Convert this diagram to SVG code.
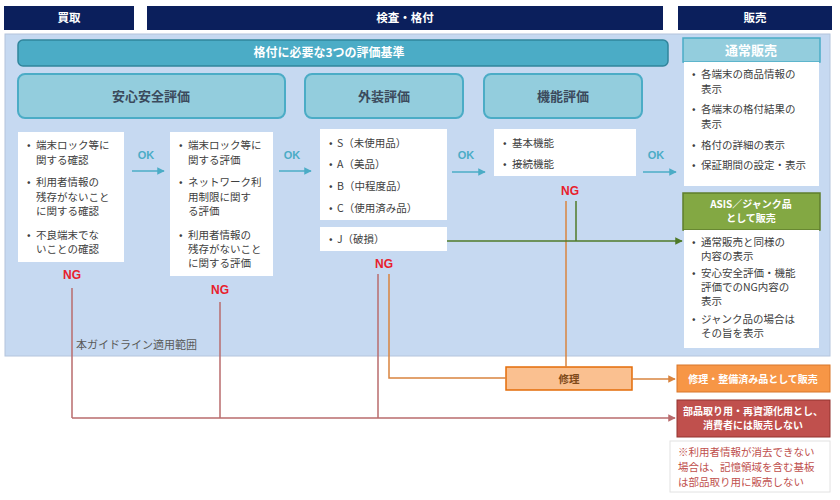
<svg xmlns="http://www.w3.org/2000/svg" width="840" height="500" viewBox="0 0 840 500">
<style>
text{font-family:"Noto Sans CJK JP","Noto Sans",sans-serif;}
.hdr{fill:#0b1f5c;}
.hdrt{fill:#fff;font-size:11.5px;font-weight:bold;text-anchor:middle;}
.cat{fill:#93cddd;stroke:#4bacc6;stroke-width:2;}
.catt{fill:#3b4a5c;font-size:13px;font-weight:bold;text-anchor:middle;}
.box{fill:#fff;}
.b{fill:#404040;font-size:10.5px;}
.ok{fill:#4bacc6;font-size:11px;font-weight:bold;text-anchor:middle;font-family:"Liberation Sans",Arial,sans-serif;}
.ng{fill:#e8202c;font-size:12px;font-weight:bold;text-anchor:middle;font-family:"Liberation Sans",Arial,sans-serif;}
.wt{fill:#fff;font-size:10px;font-weight:bold;text-anchor:middle;}
.teal{stroke:#4bacc6;stroke-width:1.5;fill:none;}
.rose{stroke:#b96b6d;stroke-width:1.5;fill:none;}
.orange{stroke:#d9843f;stroke-width:1.5;fill:none;}
.green{stroke:#4f7a28;stroke-width:1.5;fill:none;}
</style>
<defs>
<marker id="aTeal" viewBox="0 0 10 10" refX="9" refY="5" markerWidth="5" markerHeight="5" orient="auto"><path d="M0,0L10,5L0,10z" fill="#4bacc6"/></marker>
<marker id="aRose" viewBox="0 0 10 10" refX="9" refY="5" markerWidth="5" markerHeight="5" orient="auto"><path d="M0,0L10,5L0,10z" fill="#b96b6d"/></marker>
<marker id="aOrange" viewBox="0 0 10 10" refX="9" refY="5" markerWidth="5" markerHeight="5" orient="auto"><path d="M0,0L10,5L0,10z" fill="#d9843f"/></marker>
<marker id="aGreen" viewBox="0 0 10 10" refX="9" refY="5" markerWidth="5" markerHeight="5" orient="auto"><path d="M0,0L10,5L0,10z" fill="#4f7a28"/></marker>
</defs>
<rect width="840" height="500" fill="#fff"/>
<!-- panel -->
<rect x="5" y="34" width="825" height="322" fill="#c6d9f1" stroke="#b4c4dc" stroke-width="1"/>
<text x="76" y="349" style="fill:#595959;font-size:11px;">本ガイドライン適用範囲</text>

<!-- headers -->
<g id="h-buy"><rect class="hdr" x="4" y="6" width="130" height="24"/><text class="hdrt" x="69" y="22">買取</text></g>
<g id="h-inspect"><rect class="hdr" x="147" y="6" width="516" height="24"/><text class="hdrt" x="405" y="22">検査・格付</text></g>
<g id="h-sell"><rect class="hdr" x="678" y="6" width="154" height="24"/><text class="hdrt" x="755" y="22">販売</text></g>

<g id="criteria"><rect x="18" y="40" width="650" height="26" rx="5" fill="#4bacc6" stroke="#31859c" stroke-width="1.5"/><text class="hdrt" x="329" y="57" style="font-size:12px">格付に必要な3つの評価基準</text></g>
<g id="cat-safe"><rect class="cat" x="18" y="74" width="267" height="44" rx="7"/><text class="catt" x="151" y="101">安心安全評価</text></g>
<g id="cat-ext"><rect class="cat" x="305" y="74" width="158" height="44" rx="7"/><text class="catt" x="384" y="101">外装評価</text></g>
<g id="cat-func"><rect class="cat" x="484" y="74" width="158" height="44" rx="7"/><text class="catt" x="563" y="101">機能評価</text></g>

<!-- box1 -->
<g id="buy-check">
<rect class="box" x="18" y="132" width="106" height="130"/>
<text class="b" x="27" y="149">•</text>
<text class="b" x="36" y="149">端末ロック等に</text><text class="b" x="36" y="164">関する確認</text>
<text class="b" x="27" y="186">•</text>
<text class="b" x="36" y="186">利用者情報の</text><text class="b" x="36" y="201">残存がないこと</text><text class="b" x="36" y="215">に関する確認</text>
<text class="b" x="27" y="239">•</text>
<text class="b" x="36" y="239">不良端末でな</text><text class="b" x="36" y="253">いことの確認</text>
</g>
<!-- box2 -->
<g id="safe-eval">
<rect class="box" x="170" y="132" width="103" height="144"/>
<text class="b" x="179" y="149">•</text>
<text class="b" x="188" y="149">端末ロック等に</text><text class="b" x="188" y="164">関する評価</text>
<text class="b" x="179" y="186">•</text>
<text class="b" x="188" y="186">ネットワーク利</text><text class="b" x="188" y="201">用制限に関す</text><text class="b" x="188" y="215">る評価</text>
<text class="b" x="179" y="239">•</text>
<text class="b" x="188" y="239">利用者情報の</text><text class="b" x="188" y="253">残存がないこと</text><text class="b" x="188" y="267">に関する評価</text>
</g>
<!-- box3 -->
<g id="ext-grades">
<rect class="box" x="320" y="129" width="127" height="91"/>
<text class="b" x="329" y="147">•</text><text class="b" x="337" y="147">S（未使用品）</text>
<text class="b" x="329" y="168">•</text><text class="b" x="337" y="168">A（美品）</text>
<text class="b" x="329" y="190">•</text><text class="b" x="337" y="190">B（中程度品）</text>
<text class="b" x="329" y="212">•</text><text class="b" x="337" y="212">C（使用済み品）</text>
</g>
<g id="ext-j">
<rect class="box" x="320" y="227" width="127" height="24"/>
<text class="b" x="329" y="243">•</text><text class="b" x="337" y="243">J（破損）</text>
</g>
<!-- box4 -->
<g id="func-eval">
<rect class="box" x="494" y="129" width="142" height="47"/>
<text class="b" x="503" y="147">•</text><text class="b" x="512" y="147">基本機能</text>
<text class="b" x="503" y="168">•</text><text class="b" x="512" y="168">接続機能</text>
</g>

<!-- normal sale -->
<g id="sale-normal">
<rect x="683" y="38" width="137" height="24" fill="#93cddd" stroke="#4bacc6" stroke-width="1.5"/>
<text class="wt" x="751" y="55" style="font-size:13px">通常販売</text>
<rect class="box" x="684" y="62" width="135" height="124"/>
<text class="b" x="692" y="78">•</text><text class="b" x="701" y="78">各端末の商品情報の</text><text class="b" x="701" y="93">表示</text>
<text class="b" x="692" y="113">•</text><text class="b" x="701" y="113">各端末の格付結果の</text><text class="b" x="701" y="128">表示</text>
<text class="b" x="692" y="149">•</text><text class="b" x="701" y="149">格付の詳細の表示</text>
<text class="b" x="692" y="169">•</text><text class="b" x="701" y="169">保証期間の設定・表示</text>
</g>
<!-- asis -->
<g id="sale-asis">
<rect x="683" y="193" width="137" height="37" fill="#83a843" stroke="#5f7e2c" stroke-width="1.5"/>
<text class="wt" x="751" y="208">ASIS／ジャンク品</text>
<text class="wt" x="751" y="222">として販売</text>
<rect class="box" x="684" y="230" width="135" height="118"/>
<text class="b" x="692" y="246">•</text><text class="b" x="701" y="246">通常販売と同様の</text><text class="b" x="701" y="260">内容の表示</text>
<text class="b" x="692" y="277">•</text><text class="b" x="701" y="277">安心安全評価・機能</text><text class="b" x="701" y="291">評価でのNG内容の</text><text class="b" x="701" y="305">表示</text>
<text class="b" x="692" y="323">•</text><text class="b" x="701" y="323">ジャンク品の場合は</text><text class="b" x="701" y="337">その旨を表示</text>
</g>

<!-- repair -->
<g id="repair">
<rect x="506" y="367" width="126" height="23" fill="#fac090" stroke="#e36c09" stroke-width="1.5"/>
<text x="569" y="383" style="fill:#7f4a1a;font-size:10.5px;font-weight:bold;text-anchor:middle;">修理</text>
</g>
<g id="sale-repaired">
<rect x="677" y="365" width="153" height="27" fill="#f79646" stroke="#d8772a" stroke-width="1"/>
<text class="wt" x="753" y="383">修理・整備済み品として販売</text>
</g>
<g id="parts">
<rect x="677" y="400" width="153" height="37" fill="#c0504d" stroke="#93322f" stroke-width="1"/>
<text class="wt" x="753" y="415">部品取り用・再資源化用とし、</text>
<text class="wt" x="753" y="429">消費者には販売しない</text>
</g>
<g id="note">
<rect x="670" y="441" width="160" height="51" fill="#fff" stroke="#e2e2e2" stroke-width="1"/>
<text x="678" y="456" style="fill:#c0504d;font-size:10.5px;">※利用者情報が消去できない</text>
<text x="678" y="471" style="fill:#c0504d;font-size:10.5px;">場合は、記憶領域を含む基板</text>
<text x="678" y="486" style="fill:#c0504d;font-size:10.5px;">は部品取り用に販売しない</text>
</g>

<!-- labels -->
<g id="labels">
<text class="ok" x="146" y="159">OK</text>
<text class="ok" x="292" y="159">OK</text>
<text class="ok" x="466" y="159">OK</text>
<text class="ok" x="656" y="159">OK</text>
<text class="ng" x="72" y="279">NG</text>
<text class="ng" x="220" y="294">NG</text>
<text class="ng" x="384" y="268">NG</text>
<text class="ng" x="570" y="195">NG</text>
</g>

<!-- connectors -->
<g id="connectors">
<path class="teal" d="M132,171H164" marker-end="url(#aTeal)"/>
<path class="teal" d="M279,171H311" marker-end="url(#aTeal)"/>
<path class="teal" d="M452,172H485" marker-end="url(#aTeal)"/>
<path class="teal" d="M643,172H676" marker-end="url(#aTeal)"/>
<path class="rose" d="M72,288V418"/>
<path class="rose" d="M220,302V418"/>
<path class="rose" d="M378,274V418"/>
<path class="rose" d="M72,418H675" marker-end="url(#aRose)"/>
<path class="orange" d="M389,274V378H506"/>
<path class="orange" d="M566,201V367"/>
<path class="orange" d="M632,379H675" marker-end="url(#aOrange)"/>
<path class="green" d="M576,201V241"/>
<path class="green" d="M447,241H682" marker-end="url(#aGreen)"/>
</g>
</svg>
